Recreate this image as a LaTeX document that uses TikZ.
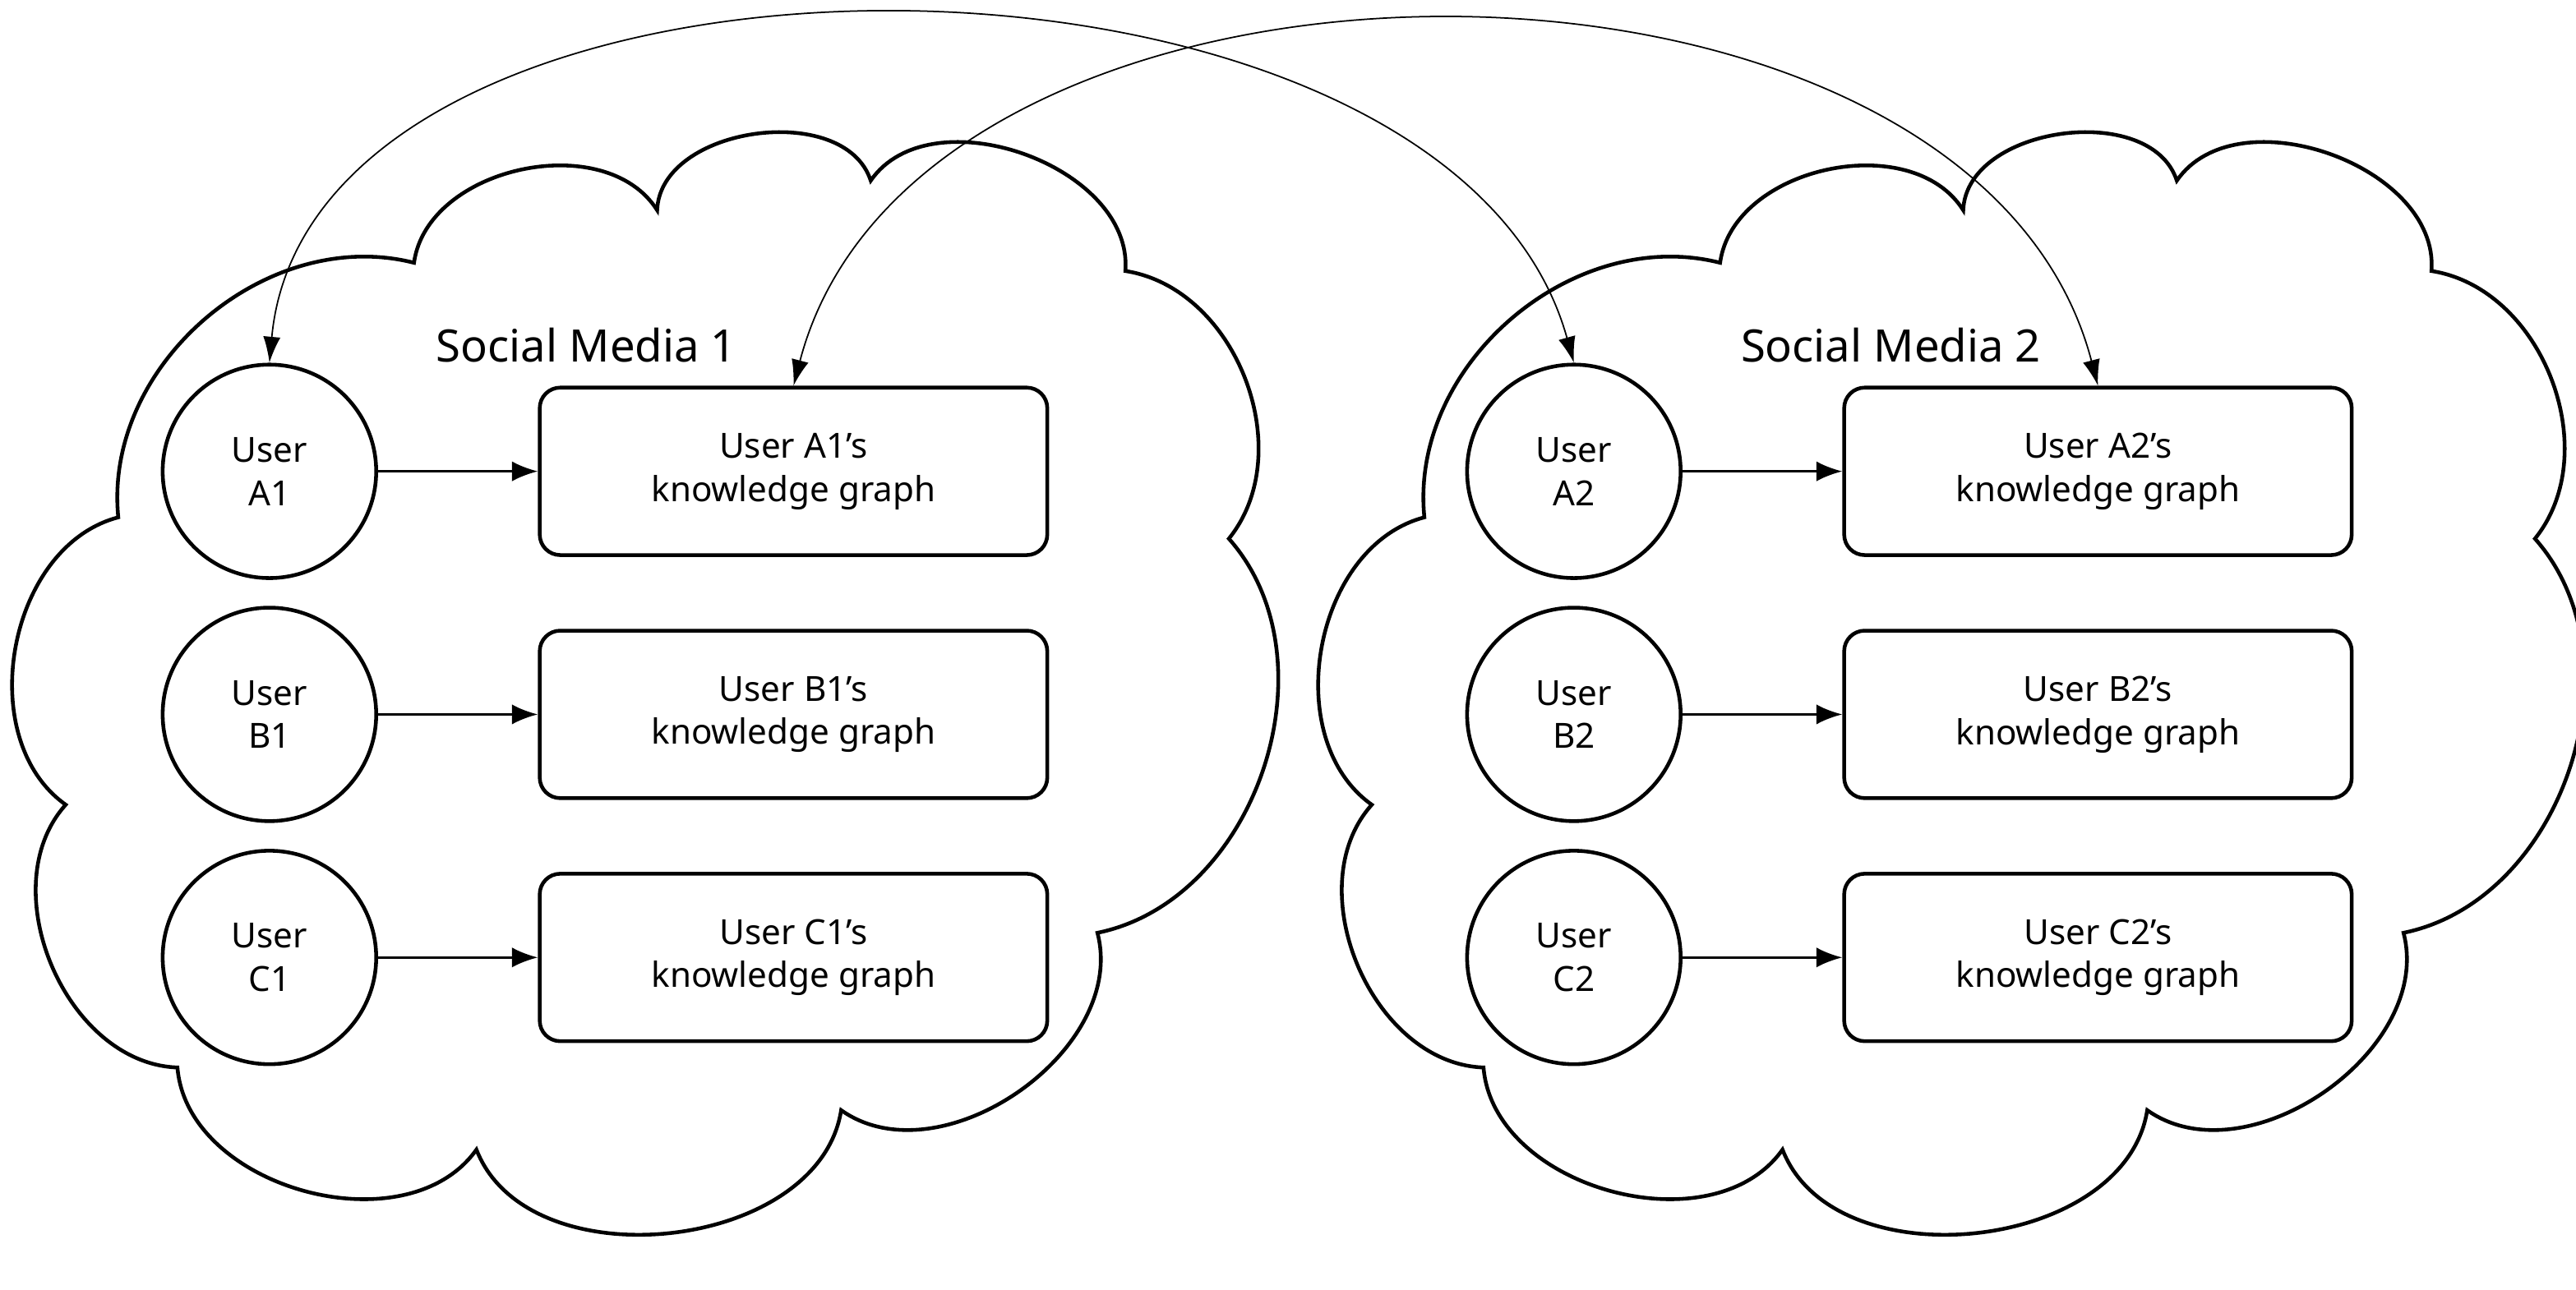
\documentclass[tikz,border=0pt]{standalone}
\usepackage{fontspec}
\setmainfont{Noto Sans}
\usetikzlibrary{arrows.meta}
\begin{document}
\begin{tikzpicture}[x=0.02cm,y=-0.02cm,
  user/.style={circle,draw,line width=1.3pt,minimum size=2.6cm,inner sep=0pt,align=center,font=\fontsize{12}{15}\selectfont},
  kg/.style={draw,rounded corners=0.25cm,line width=1.3pt,minimum width=6.18cm,minimum height=2.04cm,align=center,font=\fontsize{12}{15}\selectfont},
  title/.style={font=\fontsize{15.5}{18}\selectfont},
  cloud/.style={line width=1.3pt},
  arr/.style={-{Latex[length=9pt,width=7pt]},line width=0.9pt},
  link/.style={{Latex[length=9pt,width=6pt]}-{Latex[length=9pt,width=6pt]},line width=0.5pt}]
\useasboundingbox (0,0) rectangle (1568,785);
\foreach \dx/\n in {0/1,795/2}{
\begin{scope}[xshift=\dx*0.02cm]
\draw[cloud] (72,315) to[bend left=55] (252,160) to[bend left=70] (400,128)
  to[bend left=80] (530,110) to[bend left=75] (685,165) to[bend left=60] (748,328)
  to[bend left=60] (668,568) to[bend left=70] (512,676) to[bend left=75] (290,700)
  to[bend left=70] (108,650) to[bend left=65] (40,490) to[bend left=65] cycle;
\end{scope}}
\foreach \dx/\n in {0/1,794/2}{
\node[title] (sm\n) at (\dx+357,210) {Social Media \n};
\node[user] (ua\n) at (\dx+164,287) {User\\A\n};
\node[user] (ub\n) at (\dx+164,435) {User\\B\n};
\node[user] (uc\n) at (\dx+164,583) {User\\C\n};
\node[kg] (ka\n) at (\dx+483,287) {User A\n’s\\knowledge graph};
\node[kg] (kb\n) at (\dx+483,435) {User B\n’s\\knowledge graph};
\node[kg] (kc\n) at (\dx+483,583) {User C\n’s\\knowledge graph};
\draw[arr] (ua\n) -- (ka\n);
\draw[arr] (ub\n) -- (kb\n);
\draw[arr] (uc\n) -- (kc\n);
}
\draw[link] (ua1.north) .. controls (190,-60) and (880,-60) .. (ua2.north);
\draw[link] (ka1.north) .. controls (560,-60) and (1200,-60) .. (ka2.north);
\end{tikzpicture}
\end{document}
